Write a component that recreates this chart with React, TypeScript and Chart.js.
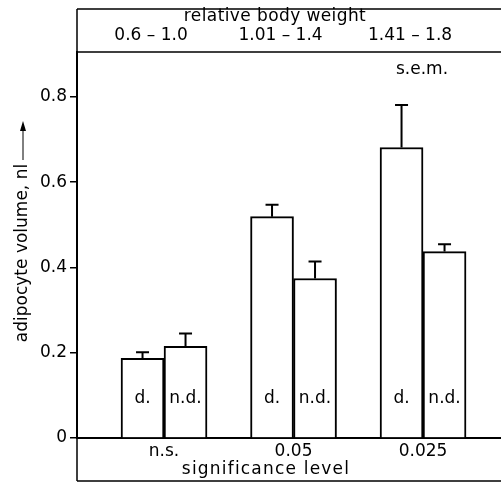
import React, { useEffect, useRef } from "react";
import { Chart, registerables } from "chart.js";

Chart.register(...registerables);

const groups = ["n.s.", "0.05", "0.025"];
const weightRanges = ["0.6 – 1.0", "1.01 – 1.4", "1.41 – 1.8"];
const seriesNames = ["d.", "n.d."];
const dValues = [0.187, 0.519, 0.681];
const dSem = [0.014, 0.028, 0.1];
const ndValues = [0.215, 0.374, 0.437];
const ndSem = [0.03, 0.04, 0.017];
const yTicks = [0, 0.2, 0.4, 0.6, 0.8];

const FONT = "'DejaVu Sans', sans-serif";

const overlay = {
  id: "overlay",
  afterDraw(chart: any) {
    const { ctx, chartArea, scales } = chart;
    const x = scales.x;
    const y = scales.y;
    const sems = [dSem, ndSem];
    const vals = [dValues, ndValues];
    ctx.save();
    ctx.strokeStyle = "#000";
    ctx.fillStyle = "#000";
    ctx.lineWidth = 2;
    // error bars and bar labels
    chart.data.datasets.forEach((ds: any, di: number) => {
      const meta = chart.getDatasetMeta(di);
      meta.data.forEach((bar: any, i: number) => {
        const top = y.getPixelForValue(vals[di][i] + sems[di][i]);
        ctx.beginPath();
        ctx.moveTo(bar.x, bar.y);
        ctx.lineTo(bar.x, top);
        ctx.moveTo(bar.x - 6.5, top);
        ctx.lineTo(bar.x + 6.5, top);
        ctx.stroke();
        ctx.font = `17px ${FONT}`;
        ctx.textAlign = "center";
        ctx.textBaseline = "middle";
        ctx.fillText(seriesNames[di], bar.x, y.getPixelForValue(0.093));
      });
    });
    // box
    const left = chartArea.left;
    const right = chart.width;
    ctx.lineWidth = 1.5;
    ctx.beginPath();
    ctx.moveTo(left, 9);
    ctx.lineTo(right, 9);
    ctx.moveTo(left, chartArea.top);
    ctx.lineTo(right, chartArea.top);
    ctx.moveTo(left, chart.height - 2);
    ctx.lineTo(right, chart.height - 2);
    ctx.moveTo(left, 9);
    ctx.lineTo(left, chart.height - 2);
    ctx.stroke();
    // header
    ctx.font = `17px ${FONT}`;
    ctx.textAlign = "center";
    ctx.textBaseline = "middle";
    ctx.letterSpacing = "0.4px";
    ctx.fillText("relative body weight", 275, 17);
    ctx.letterSpacing = "0px";
    weightRanges.forEach((t, i) => {
      ctx.fillText(t, x.getPixelForValue(i) - 13, 36);
    });
    ctx.textBaseline = "alphabetic";
    ctx.fillText("s.e.m.", 422, 74);
    // bottom title
    ctx.textBaseline = "middle";
    ctx.letterSpacing = "1.2px";
    ctx.fillText("significance level", 266, 470);
    ctx.letterSpacing = "0px";
    // y title
    ctx.save();
    ctx.translate(23, 253);
    ctx.rotate(-Math.PI / 2);
    ctx.fillText("adipocyte volume, nl", 0, 0);
    ctx.restore();
    ctx.lineWidth = 1;
    ctx.beginPath();
    ctx.moveTo(23, 160);
    ctx.lineTo(23, 124);
    ctx.stroke();
    ctx.beginPath();
    ctx.moveTo(23, 121);
    ctx.lineTo(20, 131);
    ctx.lineTo(26, 131);
    ctx.closePath();
    ctx.fill();
    ctx.restore();
  },
};

export default function App() {
  const ref = useRef<HTMLCanvasElement | null>(null);
  useEffect(() => {
    if (!ref.current) return;
    const chart = new Chart(ref.current, {
      type: "bar",
      data: {
        datasets: [
          {
            label: seriesNames[0],
            data: dValues.map((v, i) => ({ x: i, y: v })),
            backgroundColor: "#fff",
            borderColor: "#000",
            borderWidth: 2,
            barThickness: 43,
          },
          {
            label: seriesNames[1],
            data: ndValues.map((v, i) => ({ x: i, y: v })),
            backgroundColor: "#fff",
            borderColor: "#000",
            borderWidth: 2,
            barThickness: 43,
          },
        ],
      },
      options: {
        animation: false,
        responsive: true,
        maintainAspectRatio: false,
        layout: { padding: { top: 52, right: 0, left: 0, bottom: 0 } },
        plugins: {
          legend: { display: false },
          tooltip: { enabled: false },
          title: { display: false },
        },
        scales: {
          x: {
            type: "linear",
            min: -0.672,
            max: 2.602,
            offset: false,
            afterBuildTicks: (s: any) => {
              s.ticks = groups.map((_, i) => ({ value: i }));
            },
            afterFit: (s: any) => {
              s.height = 45;
            },
            ticks: {
              callback: (v: any) => groups[Math.round(Number(v))] ?? "",
              color: "#000",
              font: { family: FONT, size: 17 },
              padding: 3,
              maxRotation: 0,
              autoSkip: false,
            },
            grid: { display: false, drawTicks: false },
            border: { display: true, color: "#000", width: 2 },
          },
          y: {
            min: 0,
            max: 0.905,
            afterBuildTicks: (s: any) => {
              s.ticks = yTicks.map((v) => ({ value: v }));
            },
            afterFit: (s: any) => {
              s.width = 77;
            },
            ticks: {
              callback: (v: any) => String(v),
              color: "#000",
              font: { family: FONT, size: 17 },
              padding: 3,
            },
            grid: {
              drawOnChartArea: false,
              drawTicks: true,
              tickLength: 7,
              color: "#000",
              lineWidth: 1.5,
            },
            border: { display: true, color: "#000", width: 2 },
          },
        },
      },
      plugins: [overlay],
    } as any);
    return () => chart.destroy();
  }, []);
  return (
    <div style={{ position: "absolute", left: 0, top: 0, width: 501, height: 483, background: "#fff" }}>
      <canvas ref={ref} />
    </div>
  );
}
